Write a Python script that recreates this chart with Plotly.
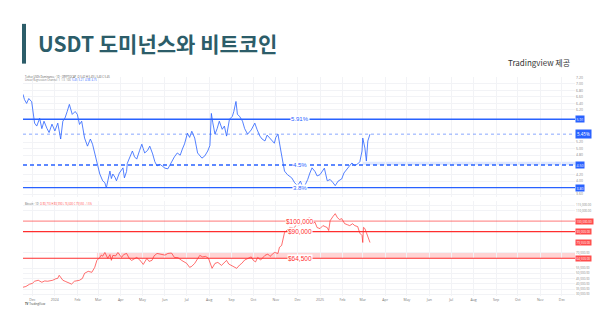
import plotly.graph_objects as go

# ---------------- data ----------------
usdt_dates = ["2023-11-18","2023-11-23","2023-11-30","2023-12-04","2023-12-11","2023-12-21","2023-12-28",
  "2024-01-05","2024-01-09","2024-01-12","2024-01-21","2024-01-25","2024-02-01","2024-02-07","2024-02-11",
  "2024-02-15","2024-02-22","2024-02-28","2024-03-03","2024-03-07","2024-03-12","2024-03-17","2024-03-21",
  "2024-03-26","2024-04-04","2024-04-06","2024-04-13","2024-04-17","2024-04-23","2024-04-30","2024-05-04",
  "2024-05-11","2024-05-15","2024-05-21","2024-05-28","2024-06-05","2024-06-10","2024-06-18","2024-06-25",
  "2024-07-02","2024-07-08","2024-07-12","2024-07-16","2024-07-22","2024-07-30","2024-08-04","2024-08-09",
  "2024-08-15","2024-08-25","2024-08-29","2024-09-02","2024-09-07","2024-09-09","2024-09-16","2024-09-23",
  "2024-10-03","2024-10-10","2024-10-17","2024-10-24","2024-10-30","2024-11-04","2024-11-08","2024-11-13",
  "2024-11-23","2024-12-01","2024-12-11","2024-12-21","2024-12-28","2025-01-04","2025-01-11","2025-01-22",
  "2025-01-31","2025-02-07","2025-02-14","2025-02-22","2025-02-28","2025-03-01","2025-03-04","2025-03-06",
  "2025-03-08","2025-03-11"]
usdt_vals = [6.68,6.40,6.45,5.79,5.94,5.63,5.76,
  5.79,5.30,5.85,6.37,6.06,6.06,5.85,5.33,
  5.08,5.14,4.53,4.22,4.01,3.79,4.31,4.22,
  4.01,4.41,4.10,4.71,4.93,4.68,5.14,4.87,
  5.08,4.84,4.47,4.47,4.38,4.62,4.87,4.99,
  5.48,5.54,5.33,4.87,4.71,4.93,6.09,5.45,
  5.85,5.39,5.91,6.00,6.46,6.06,5.85,5.45,
  5.79,5.39,5.24,5.33,5.17,5.45,4.93,4.31,
  4.10,3.86,3.86,4.41,4.16,4.31,4.01,3.86,
  4.07,4.38,4.56,4.53,4.93,5.33,5.02,4.62,
  5.24,5.45]
# additional in-between readings (day-to-day wiggles)
usdt_dates_b = ["2023-11-20","2023-11-26","2023-12-02","2023-12-07","2023-12-14","2023-12-17","2023-12-24",
  "2024-01-01","2024-01-15","2024-01-18","2024-01-29","2024-02-04","2024-02-19","2024-02-25","2024-03-10",
  "2024-03-14","2024-03-19","2024-03-24","2024-03-30","2024-04-09","2024-04-10","2024-04-20","2024-04-27",
  "2024-05-02","2024-05-08","2024-05-18","2024-05-25","2024-06-01","2024-06-08","2024-06-14","2024-06-22",
  "2024-06-28","2024-07-05","2024-07-19","2024-07-26","2024-08-02","2024-08-06","2024-08-12","2024-08-19",
  "2024-08-22","2024-09-04","2024-09-12","2024-09-19","2024-09-28","2024-10-06","2024-10-13","2024-10-20",
  "2024-10-27","2024-11-01","2024-11-10","2024-11-17","2024-11-27","2024-12-05","2024-12-08","2024-12-15",
  "2024-12-18","2024-12-25","2025-01-01","2025-01-07","2025-01-15","2025-01-19","2025-01-26","2025-02-03",
  "2025-02-10","2025-02-18","2025-02-25"]
usdt_vals_b = [6.52,6.55,6.10,5.70,5.62,5.85,5.50,
  5.55,5.95,6.15,6.15,5.75,5.30,4.85,3.95,
  4.05,4.08,4.12,4.25,4.30,4.55,4.75,4.95,
  5.00,4.95,4.60,4.52,4.40,4.50,4.75,4.80,
  5.15,5.35,4.80,4.78,5.10,5.80,5.62,5.60,
  5.70,6.15,6.00,5.62,5.58,5.60,5.30,5.42,
  5.25,5.35,4.70,4.20,3.95,4.00,3.82,4.05,
  4.25,4.30,4.20,4.40,4.05,3.95,4.00,4.25,
  4.45,4.48,4.60]

btc_dates = ["2023-11-18","2023-11-27","2023-12-04","2023-12-09","2023-12-14","2023-12-22","2023-12-29",
  "2024-01-05","2024-01-07","2024-01-12","2024-01-21","2024-01-28","2024-02-04","2024-02-11","2024-02-21",
  "2024-02-25","2024-02-28","2024-03-03","2024-03-10","2024-03-14","2024-03-21","2024-03-28","2024-04-02",
  "2024-04-09","2024-04-16","2024-04-23","2024-04-30","2024-05-07","2024-05-14","2024-05-21","2024-05-28",
  "2024-06-05","2024-06-14","2024-06-24","2024-07-01","2024-07-05","2024-07-12","2024-07-19","2024-07-27",
  "2024-08-05","2024-08-09","2024-08-18","2024-08-25","2024-09-01","2024-09-08","2024-09-15","2024-09-23",
  "2024-10-01","2024-10-07","2024-10-17","2024-10-24","2024-10-30","2024-11-04","2024-11-09","2024-11-13",
  "2024-11-16","2024-11-23","2024-11-30","2024-12-07","2024-12-14","2024-12-18","2024-12-22","2024-12-28",
  "2025-01-01","2025-01-05","2025-01-11","2025-01-15","2025-01-22","2025-01-25","2025-01-31","2025-02-04",
  "2025-02-11","2025-02-18","2025-02-22","2025-02-28","2025-03-01","2025-03-04","2025-03-06","2025-03-08",
  "2025-03-11"]
btc_vals = [36800,39650,42500,43450,41550,42500,43450,
  45350,48200,43450,40600,42500,43450,50100,51050,
  55800,62450,65300,70050,64350,67200,70050,65300,
  69100,62450,65300,60550,64350,62450,69100,68150,
  69100,65300,62450,59600,55800,59600,67200,66250,
  54850,59600,57700,62450,57700,54850,59600,64350,
  62450,65300,67200,66250,70050,69100,76700,89050,
  90950,93800,97600,98550,102350,103300,97600,93800,
  92850,95700,93800,100450,107100,103300,102350,97600,
  95700,95700,94750,86200,79550,92850,89050,84300,
  79550]
btc_dates_b = ["2023-11-22","2023-12-01","2023-12-18","2024-01-02","2024-01-09","2024-01-16","2024-01-24",
  "2024-02-08","2024-02-16","2024-03-05","2024-03-07","2024-03-17","2024-03-19","2024-03-25","2024-04-05",
  "2024-04-13","2024-04-19","2024-04-27","2024-05-02","2024-05-10","2024-05-17","2024-06-01","2024-06-10",
  "2024-06-19","2024-06-28","2024-07-08","2024-07-16","2024-07-23","2024-07-31","2024-08-13","2024-08-22",
  "2024-08-28","2024-09-05","2024-09-12","2024-09-19","2024-09-28","2024-10-04","2024-10-11","2024-10-21",
  "2024-10-27","2024-11-06","2024-11-20","2024-11-26","2024-12-03","2024-12-10","2024-12-25","2025-01-08",
  "2025-01-13","2025-01-19","2025-01-28","2025-02-08","2025-02-15","2025-02-25","2025-03-02"]
btc_vals_b = [37500,40500,42800,44800,46500,42200,39800,
  45200,52000,67500,66500,68000,62500,66800,68000,
  64000,63800,63000,58600,61500,66800,67500,69500,
  65000,61000,56800,64500,65800,64500,60500,61000,
  59000,56200,58000,62800,65800,61000,62800,68500,
  67800,75000,94000,93000,96000,97000,99000,94500,
  91000,104500,101500,96500,97500,88500,94000]

usdt_levels = [5.91, 4.5, 3.8]
usdt_level_labels = ["5.91%", "4.5%", "3.8%"]
usdt_level_dash = ["solid", "4px,3px", "solid"]
usdt_band = [4.5, 4.6]
usdt_band_start = "2025-03-01"
usdt_ticks = [3.6, 4.0, 4.2, 4.8, 5.0, 5.2, 6.2, 6.4, 6.6, 6.8, 7.0, 7.2]

btc_levels = [100000, 90000, 64500]
btc_level_labels = ["$100,000", "$90,000", "$64,500"]
btc_band = [64500, 70000]
btc_band_start = "2024-02-28"
btc_ticks = [30000, 35000, 40000, 45000, 50000, 55000, 70000, 110000, 115000]

x_range = ["2023-11-18", "2025-12-19"]
label_date = "2024-12-04"

month_ticks = ["2023-12-01","2024-01-01","2024-02-01","2024-03-01","2024-04-01","2024-05-01","2024-06-01",
  "2024-07-01","2024-08-01","2024-09-01","2024-10-01","2024-11-01","2024-12-01","2025-01-01","2025-02-01",
  "2025-03-01","2025-04-01","2025-05-01","2025-06-01","2025-07-01","2025-08-01","2025-09-01","2025-10-01",
  "2025-11-01","2025-12-01"]
month_labels = ["Dec","2024","Feb","Mar","Apr","May","Jun","Jul","Aug","Sep","Oct","Nov","Dec","2025",
  "Feb","Mar","Apr","May","Jun","Jul","Aug","Sep","Oct","Nov","Dec"]

# combine readings in date order
u_pairs = sorted(zip(usdt_dates + usdt_dates_b, usdt_vals + usdt_vals_b))
b_pairs = sorted(zip(btc_dates + btc_dates_b, btc_vals + btc_vals_b))
u_x = [p[0] for p in u_pairs]; u_y = [p[1] for p in u_pairs]
b_x = [p[0] for p in b_pairs]; b_y = [p[1] for p in b_pairs]

# ---------------- styling ----------------
BLUE = "#2962ff"
RED = "#ff2e2e"
TEAL = "#2c5d69"
W, H = 600, 323

def px_x(p):
    return p / W

def px_y(p):
    return 1 - p / H

fig = go.Figure()

fig.add_trace(go.Scatter(x=u_x, y=u_y, mode="lines",
                         line=dict(color="rgba(41,98,255,0.8)", width=1.0),
                         xaxis="x", yaxis="y", hoverinfo="skip"))
fig.add_trace(go.Scatter(x=b_x, y=b_y, mode="lines",
                         line=dict(color="rgba(255,40,40,0.75)", width=0.9),
                         xaxis="x2", yaxis="y2", hoverinfo="skip"))

shapes = []
annotations = []

# bands
shapes.append(dict(type="rect", xref="x", yref="y", x0=usdt_band_start, x1=x_range[1],
                   y0=usdt_band[0], y1=usdt_band[1], fillcolor="rgba(41,98,255,0.15)",
                   line=dict(width=0), layer="below"))
shapes.append(dict(type="rect", xref="x2", yref="y2", x0=btc_band_start, x1=x_range[1],
                   y0=btc_band[0], y1=btc_band[1], fillcolor="rgba(255,60,60,0.22)",
                   line=dict(width=0), layer="below"))

# usdt levels
for lv, lab, dsh in zip(usdt_levels, usdt_level_labels, usdt_level_dash):
    shapes.append(dict(type="line", xref="x domain", yref="y", x0=0, x1=1, y0=lv, y1=lv,
                       line=dict(color=BLUE, width=1.4, dash=dsh)))
    annotations.append(dict(x=label_date, y=lv, xref="x", yref="y", text=lab, showarrow=False,
                            font=dict(size=6, color=BLUE, family="Liberation Sans"),
                            bgcolor="white", borderpad=0))
    annotations.append(dict(x=px_x(575), y=lv, xref="paper", yref="y", text=f"{lv:.2f}", showarrow=False,
                            xanchor="left", font=dict(size=3.5, color="white"), bgcolor=BLUE, borderpad=0.5))

# last price dotted line (usdt)
last_u = u_y[-1]
shapes.append(dict(type="line", xref="x domain", yref="y", x0=0, x1=1, y0=last_u, y1=last_u,
                   line=dict(color="rgba(41,98,255,0.55)", width=1, dash="dot")))
annotations.append(dict(x=px_x(575), y=last_u, xref="paper", yref="y", text=f"{last_u:.2f}%", showarrow=False,
                        xanchor="left", font=dict(size=4.5, color="white"), bgcolor=BLUE, borderpad=1))

# btc levels
btc_line_colors = ["rgba(255,40,40,0.5)", RED, RED]
for lv, lab, col in zip(btc_levels, btc_level_labels, btc_line_colors):
    shapes.append(dict(type="line", xref="x2 domain", yref="y2", x0=0, x1=1, y0=lv, y1=lv,
                       line=dict(color=col, width=1.2)))
    annotations.append(dict(x=label_date, y=lv, xref="x2", yref="y2", text=lab, showarrow=False,
                            font=dict(size=6.5, color=RED, family="Liberation Sans"),
                            bgcolor="white", borderpad=0))
    annotations.append(dict(x=px_x(575), y=lv, xref="paper", yref="y2", text=f"{lv:,.2f}", showarrow=False,
                            xanchor="left", font=dict(size=3, color="white"), bgcolor="#ff4d4d", borderpad=0.5))
last_b = b_y[-1]
annotations.append(dict(x=px_x(575), y=last_b, xref="paper", yref="y2", text=f"{last_b:,.2f}", showarrow=False,
                        xanchor="left", font=dict(size=3, color="white"), bgcolor="#ff4d4d", borderpad=0.5))

# title bar + title
shapes.append(dict(type="rect", xref="paper", yref="paper", x0=px_x(22), x1=px_x(26),
                   y0=px_y(62), y1=px_y(22), fillcolor=TEAL, line=dict(width=0)))
annotations.append(dict(x=px_x(36), y=px_y(41), xref="paper", yref="paper", xanchor="left", yanchor="middle",
                        text="<b>USDT 도미넌스와 비트코인</b>", showarrow=False,
                        font=dict(size=21, color=TEAL, family="Noto Sans CJK KR")))
annotations.append(dict(x=px_x(572), y=px_y(61), xref="paper", yref="paper", xanchor="right", yanchor="middle",
                        text="Tradingview 제공", showarrow=False,
                        font=dict(size=8, color="#333333", family="Noto Sans CJK KR")))

# tiny chart headers
annotations.append(dict(x=px_x(23), y=px_y(75), xref="paper", yref="paper", xanchor="left", yanchor="middle",
                        text="Tether USDt Dominance · 1D · CRYPTOCAP  O 5.42 H 5.49 L 5.40 C 5.45", showarrow=False,
                        font=dict(size=2.6, color="#555555")))
annotations.append(dict(x=px_x(23), y=px_y(78.5), xref="paper", yref="paper", xanchor="left", yanchor="middle",
                        text="Linear Regression Channel  1  1.5  100  <span style='color:#2962ff'>5.45  5.21  4.98  4.75</span>", showarrow=False,
                        font=dict(size=2.6, color="#777777")))
annotations.append(dict(x=px_x(23), y=px_y(203), xref="paper", yref="paper", xanchor="left", yanchor="middle",
                        text="Bitcoin · 1D  <span style='color:#ff4d4d'>O 80,710 H 83,990 L 76,600 C 79,550 −1.5%</span>", showarrow=False,
                        font=dict(size=2.6, color="#666666")))
annotations.append(dict(x=px_x(23), y=px_y(304), xref="paper", yref="paper", xanchor="left", yanchor="middle",
                        text="<b>TV</b> TradingView", showarrow=False,
                        font=dict(size=2.8, color="#444444")))

axis_common = dict(showline=False, zeroline=False, ticks="", gridcolor="#f2f3f6", gridwidth=1)

fig.update_layout(
    width=W, height=H, margin=dict(l=0, r=0, t=0, b=0),
    paper_bgcolor="white", plot_bgcolor="white", showlegend=False,
    shapes=shapes, annotations=annotations,
    xaxis=dict(domain=[px_x(23), px_x(575)], type="date", range=x_range, anchor="y",
               tickvals=month_ticks, showticklabels=False, **axis_common),
    yaxis=dict(domain=[px_y(196), px_y(75)], range=[3.517, 7.229], side="right", anchor="x",
               tickvals=usdt_ticks, tickformat=".2f", tickfont=dict(size=3.5, color="#888888"), **axis_common),
    xaxis2=dict(domain=[px_x(23), px_x(575)], type="date", range=x_range, anchor="y2",
                tickvals=month_ticks, ticktext=month_labels, tickfont=dict(size=3.5, color="#777777"),
                **axis_common),
    yaxis2=dict(domain=[px_y(296), px_y(200)], range=[28250, 119450], side="right", anchor="x2",
                tickvals=btc_ticks, tickformat=",.2f", tickfont=dict(size=3, color="#888888"), **axis_common),
)

fig.write_html("out.html")
